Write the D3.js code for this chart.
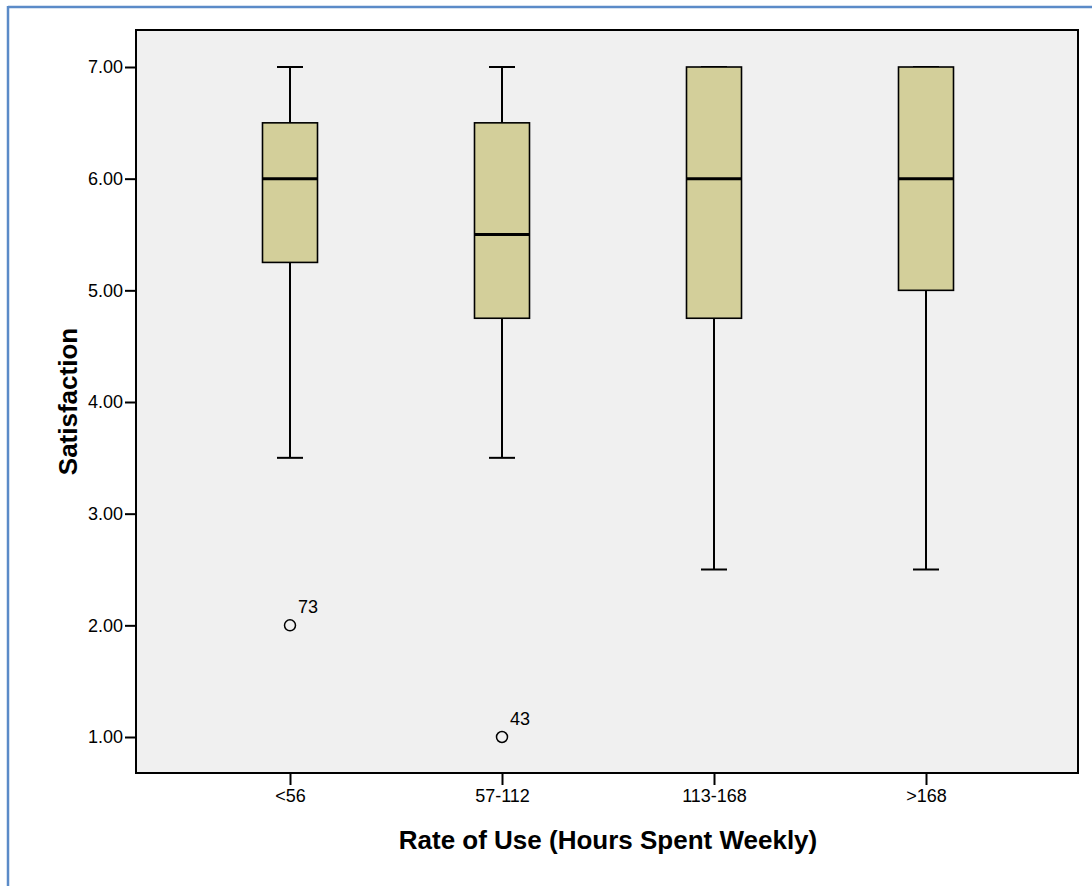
<!DOCTYPE html>
<html>
<head>
<meta charset="utf-8">
<script src="https://cdn.jsdelivr.net/npm/d3@7"></script>
<style>
  html, body { margin: 0; padding: 0; background: #ffffff; }
  svg { display: block; font-family: "Liberation Sans", Arial, sans-serif; }
</style>
</head>
<body>
<svg id="chart" width="1092" height="886"></svg>
<script>
// Satisfaction by weekly rate of use
const categories = ["<56", "57-112", "113-168", ">168"];
const whiskerLow  = [3.5, 3.5, 2.5, 2.5];
const quartile1   = [5.25, 4.75, 4.75, 5.0];
const medians     = [6.0, 5.5, 6.0, 6.0];
const quartile3   = [6.5, 6.5, 7.0, 7.0];
const whiskerHigh = [7.0, 7.0, 7.0, 7.0];
const outliers = [
  { category: "<56", value: 2.0, label: "73" },
  { category: "57-112", value: 1.0, label: "43" }
];
const yTicks = [1, 2, 3, 4, 5, 6, 7];

const svg = d3.select("#chart");

// outer panel frame
svg.append("line").attr("x1", 8).attr("x2", 1092).attr("y1", 7).attr("y2", 7)
  .attr("stroke", "#5b8bc8").attr("stroke-width", 2.5);
svg.append("line").attr("x1", 8).attr("x2", 8).attr("y1", 6).attr("y2", 886)
  .attr("stroke", "#5b8bc8").attr("stroke-width", 2.5);

const plot = { left: 136, top: 30, right: 1078, bottom: 773 };

const x = d3.scalePoint().domain(categories).range([290, 926]);
const y = d3.scaleLinear().domain([1, 7]).range([737, 67]);

// plot background
svg.append("rect")
  .attr("x", plot.left).attr("y", plot.top)
  .attr("width", plot.right - plot.left).attr("height", plot.bottom - plot.top)
  .attr("fill", "#f0f0f0");

// axes
const yAxis = d3.axisLeft(y).tickValues(yTicks).tickFormat(d3.format(".2f")).tickSize(11).tickPadding(2);
const gy = svg.append("g").attr("transform", `translate(${plot.left},0)`).call(yAxis);
gy.select(".domain").remove();
gy.selectAll(".tick line").attr("stroke", "#000").attr("stroke-width", 2);
gy.selectAll(".tick text").attr("fill", "#000").style("font-size", "18px");

const xAxis = d3.axisBottom(x).tickSize(12).tickPadding(4);
const gx = svg.append("g").attr("transform", `translate(0,${plot.bottom})`).call(xAxis);
gx.select(".domain").remove();
gx.selectAll(".tick line").attr("stroke", "#000").attr("stroke-width", 2);
gx.selectAll(".tick text").attr("fill", "#000").style("font-size", "18px");

// boxes
const boxW = 55, capW = 26;
const boxes = categories.map((c, i) => ({
  c, lo: whiskerLow[i], q1: quartile1[i], med: medians[i], q3: quartile3[i], hi: whiskerHigh[i]
}));

const g = svg.append("g");
boxes.forEach(b => {
  const cx = x(b.c);
  // whiskers
  g.append("line").attr("x1", cx).attr("x2", cx).attr("y1", y(b.q3)).attr("y2", y(b.hi))
    .attr("stroke", "#000").attr("stroke-width", 2);
  g.append("line").attr("x1", cx).attr("x2", cx).attr("y1", y(b.q1)).attr("y2", y(b.lo))
    .attr("stroke", "#000").attr("stroke-width", 2);
  g.append("line").attr("x1", cx - capW / 2).attr("x2", cx + capW / 2).attr("y1", y(b.hi)).attr("y2", y(b.hi))
    .attr("stroke", "#000").attr("stroke-width", 2);
  g.append("line").attr("x1", cx - capW / 2).attr("x2", cx + capW / 2).attr("y1", y(b.lo)).attr("y2", y(b.lo))
    .attr("stroke", "#000").attr("stroke-width", 2);
  // box
  g.append("rect").attr("x", cx - boxW / 2).attr("y", y(b.q3))
    .attr("width", boxW).attr("height", y(b.q1) - y(b.q3))
    .attr("fill", "#d3cf9a").attr("stroke", "#000").attr("stroke-width", 1.6);
  // median
  g.append("line").attr("x1", cx - boxW / 2).attr("x2", cx + boxW / 2).attr("y1", y(b.med)).attr("y2", y(b.med))
    .attr("stroke", "#000").attr("stroke-width", 3);
});

// outliers
outliers.forEach(o => {
  const cx = x(o.category), cy = y(o.value);
  g.append("circle").attr("cx", cx).attr("cy", cy).attr("r", 5.5)
    .attr("fill", "none").attr("stroke", "#000").attr("stroke-width", 1.5);
  g.append("text").attr("x", cx + 8).attr("y", cy - 12).text(o.label)
    .style("font-size", "18px").attr("fill", "#000");
});

// plot border
svg.append("rect")
  .attr("x", plot.left).attr("y", plot.top)
  .attr("width", plot.right - plot.left).attr("height", plot.bottom - plot.top)
  .attr("fill", "none").attr("stroke", "#000").attr("stroke-width", 2);

// axis titles
svg.append("text")
  .attr("transform", `translate(77,${(plot.top + plot.bottom) / 2}) rotate(-90)`)
  .attr("text-anchor", "middle")
  .style("font-size", "26px").style("font-weight", "bold")
  .text("Satisfaction");

svg.append("text")
  .attr("x", (plot.left + plot.right) / 2 + 1).attr("y", 849)
  .attr("text-anchor", "middle")
  .style("font-size", "26px").style("font-weight", "bold")
  .text("Rate of Use (Hours Spent Weekly)");
</script>
</body>
</html>
